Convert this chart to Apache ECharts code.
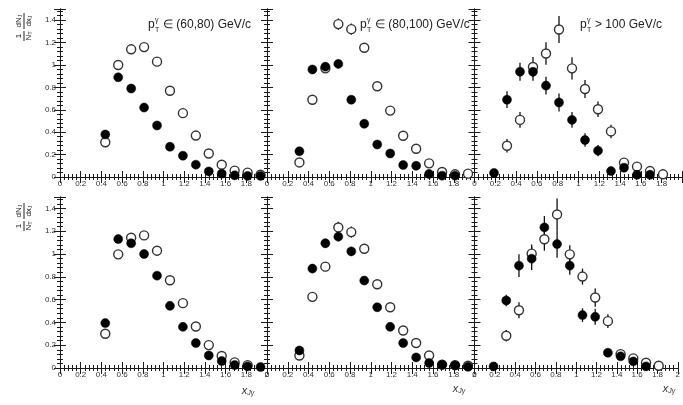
<!DOCTYPE html>
<html>
<head>
<meta charset="utf-8">
<script src="https://cdn.jsdelivr.net/npm/echarts@6/dist/echarts.min.js"></script>
<style>
  html, body { margin: 0; padding: 0; background: #fff; }
  #main { width: 683px; height: 405px; }
</style>
</head>
<body>
<div id="main"></div>
<script>
// bin centres of x_Jgamma (16 bins of 0.125 between 0 and 2)
const bins = [0.0625, 0.1875, 0.3125, 0.4375, 0.5625, 0.6875, 0.8125, 0.9375,
              1.0625, 1.1875, 1.3125, 1.4375, 1.5625, 1.6875, 1.8125, 1.9375];
const xTicks = [0, 0.2, 0.4, 0.6, 0.8, 1, 1.2, 1.4, 1.6, 1.8, 2];
const yTicks = [0, 0.2, 0.4, 0.6, 0.8, 1, 1.2, 1.4];
const ptTitles = ['\u2208 (60,80) GeV/c', '\u2208 (80,100) GeV/c', '> 100 GeV/c'];

// top row
const top60Filled = [null, null, null, 0.38, 0.89, 0.79, 0.62, 0.46, 0.27, 0.19, 0.11, 0.05, 0.03, 0.015, 0.01, 0.01];
const top60Open   = [null, null, null, 0.31, 1.0, 1.14, 1.16, 1.03, 0.77, 0.57, 0.37, 0.21, 0.11, 0.057, 0.039, 0.02];
const top80Filled = [null, null, 0.23, 0.96, 0.985, 1.01, 0.69, 0.475, 0.29, 0.21, 0.107, 0.10, 0.027, 0.012, 0.012, null];
const top80Open   = [null, null, 0.13, 0.69, 0.97, 1.365, 1.32, 1.154, 0.81, 0.593, 0.368, 0.252, 0.122, 0.045, 0.024, 0.03];
const top80FilledErr = [0, 0, 0.02, 0.04, 0.04, 0.04, 0.03, 0.02, 0.02, 0.01, 0.01, 0.01, 0, 0, 0, 0];
const top80OpenErr   = [0, 0, 0.02, 0.03, 0.04, 0.05, 0.05, 0.04, 0.03, 0.02, 0.02, 0.02, 0.01, 0, 0, 0];
const top100Filled = [null, 0.036, 0.69, 0.94, 0.94, 0.816, 0.665, 0.51, 0.33, 0.235, 0.053, 0.083, 0.02, 0.02, null, null];
const top100Open   = [null, null, 0.279, 0.51, 0.982, 1.103, 1.317, 0.97, 0.786, 0.605, 0.407, 0.128, 0.093, 0.053, 0.024, null];
const top100FilledErr = [0, 0.02, 0.075, 0.08, 0.08, 0.08, 0.08, 0.07, 0.06, 0.05, 0.02, 0.02, 0.01, 0.01, 0, 0];
const top100OpenErr   = [0, 0, 0.06, 0.07, 0.09, 0.1, 0.12, 0.1, 0.08, 0.07, 0.06, 0.03, 0.02, 0.02, 0.01, 0];

// bottom row
const bot60Filled = [null, null, null, 0.394, 1.131, 1.094, 1.0, 0.81, 0.545, 0.361, 0.219, 0.11, 0.061, 0.026, 0.014, 0.009];
const bot60Open   = [null, null, null, 0.30, 0.997, 1.143, 1.163, 1.029, 0.77, 0.569, 0.364, 0.201, 0.105, 0.049, 0.025, null];
const bot80Filled = [null, null, 0.154, 0.872, 1.094, 1.152, 1.023, 0.767, 0.533, 0.361, 0.219, 0.093, 0.044, 0.029, 0.023, 0.01];
const bot80Open   = [null, null, 0.11, 0.624, 0.889, 1.233, 1.192, 1.046, 0.735, 0.533, 0.329, 0.219, 0.11, 0.03, 0.025, 0.02];
const bot80FilledErr = [0, 0, 0.02, 0.04, 0.04, 0.04, 0.04, 0.03, 0.02, 0.02, 0.01, 0.01, 0, 0, 0, 0];
const bot80OpenErr   = [0, 0, 0.02, 0.04, 0.04, 0.05, 0.05, 0.04, 0.03, 0.02, 0.02, 0.01, 0.01, 0, 0, 0];
const bot100Filled = [null, 0.014, 0.592, 0.898, 0.959, 1.233, 1.087, 0.898, 0.464, 0.449, 0.134, 0.102, 0.058, 0.014, null, null];
const bot100Open   = [null, null, 0.283, 0.507, 1.003, 1.129, 1.347, 0.997, 0.802, 0.618, 0.411, 0.122, 0.084, 0.046, 0.02, null];
const bot100FilledErr = [0, 0.02, 0.05, 0.1, 0.1, 0.1, 0.12, 0.08, 0.06, 0.07, 0.03, 0.03, 0.02, 0.01, 0, 0];
const bot100OpenErr   = [0, 0, 0.05, 0.07, 0.08, 0.1, 0.14, 0.08, 0.07, 0.08, 0.06, 0.03, 0.02, 0.02, 0.01, 0];

const zeros = bins.map(() => 0);
const panels = [
  { filled: top60Filled, open: top60Open, fErr: zeros, oErr: zeros },
  { filled: top80Filled, open: top80Open, fErr: top80FilledErr, oErr: top80OpenErr },
  { filled: top100Filled, open: top100Open, fErr: top100FilledErr, oErr: top100OpenErr },
  { filled: bot60Filled, open: bot60Open, fErr: zeros, oErr: zeros },
  { filled: bot80Filled, open: bot80Open, fErr: bot80FilledErr, oErr: bot80OpenErr },
  { filled: bot100Filled, open: bot100Open, fErr: bot100FilledErr, oErr: bot100OpenErr }
];

const colLeft = [60, 267, 474.5];
const colWidth = [207, 207.5, 208];
const rowTop = [9, 197];
const rowHeight = [168, 171];

const font = 'Liberation Sans, Arial, sans-serif';
const frameColor = '#1a1a1a';

var grids = [], xAxes = [], yAxes = [], series = [];

function pts(vals, errs) {
  const out = [];
  for (let i = 0; i < bins.length; i++) {
    if (vals[i] !== null) out.push([bins[i], vals[i], errs ? errs[i] : 0]);
  }
  return out;
}

function errorBars(data, gi) {
  return {
    type: 'custom',
    xAxisIndex: gi * 2,
    yAxisIndex: gi * 2,
    silent: true,
    z: 1,
    data: data.filter(d => d[2] > 0),
    renderItem: function (params, api) {
      const x = api.value(0), y = api.value(1), e = api.value(2);
      const p1 = api.coord([x, y - e]);
      const p2 = api.coord([x, y + e]);
      return {
        type: 'line',
        shape: { x1: p1[0], y1: p1[1], x2: p2[0], y2: p2[1] },
        style: { stroke: '#111', lineWidth: 1.3 }
      };
    }
  };
}

panels.forEach(function (p, gi) {
  const row = Math.floor(gi / 3), col = gi % 3;
  grids.push({
    left: colLeft[col], top: rowTop[row],
    width: colWidth[col], height: rowHeight[row]
  });
  const tickCommon = {
    axisLine: { show: true, lineStyle: { color: frameColor, width: 1 } },
    axisTick: { show: true, inside: true, length: 6, lineStyle: { color: frameColor } },
    minorTick: { show: true, splitNumber: 5, length: 3, lineStyle: { color: frameColor } },
    splitLine: { show: false },
    minorSplitLine: { show: false }
  };
  xAxes.push(Object.assign({
    type: 'value', gridIndex: gi, position: 'bottom',
    min: xTicks[0], max: xTicks[xTicks.length - 1], interval: 0.2,
    axisLabel: {
      show: true, fontSize: 8, color: '#333', fontFamily: font, margin: 3,
      showMaxLabel: row === 1, showMinLabel: true
    }
  }, tickCommon));
  xAxes.push(Object.assign({
    type: 'value', gridIndex: gi, position: 'top',
    min: xTicks[0], max: xTicks[xTicks.length - 1], interval: 0.2,
    axisLabel: { show: false }
  }, tickCommon));
  yAxes.push(Object.assign({
    type: 'value', gridIndex: gi, position: 'left',
    min: yTicks[0], max: 1.5, interval: 0.2,
    axisLabel: {
      show: col === 0, fontSize: 8, color: '#333', fontFamily: font, margin: 4,
      showMaxLabel: false
    }
  }, tickCommon));
  yAxes.push(Object.assign({
    type: 'value', gridIndex: gi, position: 'right',
    min: yTicks[0], max: 1.5, interval: 0.2,
    axisLabel: { show: false }
  }, tickCommon));

  const openData = pts(p.open, p.oErr);
  const filledData = pts(p.filled, p.fErr);
  series.push(errorBars(openData, gi));
  series.push(errorBars(filledData, gi));
  series.push({
    type: 'scatter', xAxisIndex: gi * 2, yAxisIndex: gi * 2,
    data: openData, symbol: 'circle', symbolSize: 9, z: 2, clip: false,
    itemStyle: { color: '#fff', borderColor: '#333', borderWidth: 1.4, opacity: 1 }
  });
  series.push({
    type: 'scatter', xAxisIndex: gi * 2, yAxisIndex: gi * 2,
    data: filledData, symbol: 'circle', symbolSize: 9, z: 3, clip: false,
    itemStyle: { color: '#000', borderColor: '#000', borderWidth: 0.5, opacity: 1 }
  });
});

// p_T^gamma labels in the top panels
function ptLabel(x, y, rest) {
  return {
    type: 'group', x: x, y: y,
    children: [
      { type: 'text', x: 0, y: 0, style: { text: 'p', font: '12px ' + font, fill: '#222', verticalAlign: 'middle' } },
      { type: 'text', x: 7, y: -5, style: { text: '\u03b3', font: '7px ' + font, fill: '#222', verticalAlign: 'middle' } },
      { type: 'text', x: 7, y: 5, style: { text: 'T', font: '7px ' + font, fill: '#222', verticalAlign: 'middle' } },
      { type: 'text', x: 15, y: 0, style: { text: rest, font: '12px ' + font, fill: '#222', verticalAlign: 'middle' } }
    ]
  };
}

// vertical 1/N dN/dx title, every piece rotated on its own;
// local (lx, ly) along the text maps to screen (cx + ly, cy - lx)
function yTitle(cx, cy) {
  const small = '8px ' + font;
  const sub = '5.5px ' + font;
  const rot = Math.PI / 2;
  function piece(lx, ly, text) {
    return {
      type: 'text', x: cx + ly, y: cy - lx, rotation: rot,
      style: { text: text, fill: '#222', align: 'center', verticalAlign: 'middle',
        rich: { a: { font: small }, b: { font: sub, verticalAlign: 'bottom' } } }
    };
  }
  return [
    { type: 'line', shape: { x1: cx, y1: cy + 14, x2: cx, y2: cy + 4 }, style: { stroke: '#222', lineWidth: 1 } },
    { type: 'line', shape: { x1: cx, y1: cy + 2, x2: cx, y2: cy - 14 }, style: { stroke: '#222', lineWidth: 1 } },
    piece(-9, -5, '{a|1}'),
    piece(-9, 5, '{a|N}{b|T}'),
    piece(6, -5, '{a|dN}{b|J}'),
    piece(6, 5, '{a|dx}{b|J}')
  ];
}

function xTitle(cx, cy) {
  return {
    type: 'text', x: cx, y: cy,
    style: {
      text: '{x|x}{s|J\u03b3}', fill: '#333', align: 'center', verticalAlign: 'middle',
      rich: {
        x: { font: 'italic 11px ' + font },
        s: { font: 'italic 7px ' + font, verticalAlign: 'bottom' }
      }
    }
  };
}

const graphics = [
  ptLabel(148, 25, ptTitles[0]),
  ptLabel(360, 25, ptTitles[1]),
  ptLabel(580, 25, ptTitles[2]),
  xTitle(248, 391),
  xTitle(459, 389),
  xTitle(669, 389)
].concat(yTitle(24, 27), yTitle(24, 217));

var dom = document.getElementById('main');
var myChart = echarts.init(dom, null, { renderer: 'canvas' });
var option = {
  backgroundColor: '#fff',
  animation: false,
  grid: grids,
  xAxis: xAxes,
  yAxis: yAxes,
  series: series,
  graphic: graphics
};
myChart.setOption(option);
window.addEventListener('resize', myChart.resize);
</script>
</body>
</html>
